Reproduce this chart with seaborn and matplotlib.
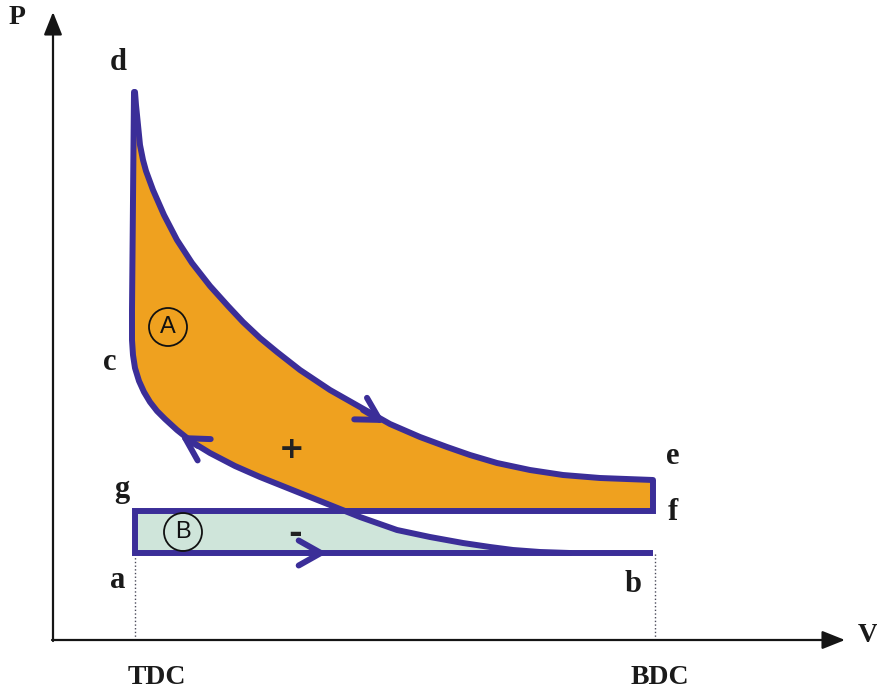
import numpy as np
import pandas as pd
import matplotlib
matplotlib.use("Agg")
import matplotlib.pyplot as plt
from matplotlib.patches import Circle
import seaborn as sns

# diagram units
V_TDC = 82
V_BDC = 600
P_e = 160          # end of expansion
P_gf = 129         # exhaust line g-f
P_ab = 87          # intake line a-b

# expansion stroke d -> e
exp_V = [82, 83, 85, 87, 90, 93, 100, 111, 124, 139, 157, 175, 190, 207, 224, 247,
         277, 307, 337, 367, 394, 417, 444, 477, 510, 547, 600]
exp_P = [548, 535, 515, 495, 480, 469, 450, 425, 400, 377, 354, 334, 318, 302, 288,
         270, 250, 233, 216, 203, 193, 185, 177, 170, 165, 162, 160]

# left edge d -> c, then compression c -> b (listed top to bottom)
comp_V = [81, 80, 79, 79, 80, 82, 86, 91, 97, 104, 112, 124, 139, 157, 182, 207,
          232, 257, 287, 307, 344, 377, 410, 437, 460, 487, 517]
comp_P = [548, 440, 330, 300, 285, 272, 259, 248, 238, 229, 221, 210, 198, 187,
          174, 163, 153, 143, 131, 123, 110, 103, 97, 93, 90, 88, 87]

point_labels = ["d", "c", "g", "a", "b", "e", "f"]
label_V = [65, 57, 69, 65, 580, 620, 620]
label_P = [578, 278, 150, 60, 55, 183, 127]

LINE = "#3b2e98"
ORANGE = "#efa11f"
GREEN = "#cfe5da"
INK = "#1a1a1a"

sns.set_theme(style="white")
fig = plt.figure(figsize=(8.77, 6.93), dpi=100)
ax = fig.add_axes([0, 0, 1, 1])
ax.set_xlim(-53, 824)
ax.set_ylim(-53, 640)
ax.axis("off")

cV = np.array(comp_V)
cP = np.array(comp_P)

# area A (orange): above compression curve and above the g-f line
polyA_V = list(exp_V) + [V_BDC] + list(cV[::-1])
polyA_P = list(exp_P) + [P_gf] + list(np.maximum(cP[::-1], P_gf))
ax.fill(polyA_V, polyA_P, color=ORANGE, lw=0, zorder=1)

# area B (green): between a-b line and min(compression, g-f line)
polyB_V = [V_TDC, V_TDC] + list(cV[cV > V_TDC])
polyB_P = [P_ab, P_gf] + list(np.minimum(cP[cV > V_TDC], P_gf))
ax.fill(polyB_V, polyB_P, color=GREEN, lw=0, zorder=1)

lw = 4.3
for xs, ys in [(exp_V, exp_P), (comp_V, comp_P)]:
    sns.lineplot(x=xs, y=ys, sort=False, estimator=None, color=LINE, lw=lw, ax=ax,
                 zorder=3, solid_joinstyle="round", solid_capstyle="round")
rect = pd.DataFrame({"V": [V_BDC, V_BDC, V_TDC, V_TDC, V_BDC],
                     "P": [P_e, P_gf, P_gf, P_ab, P_ab]})
ax.plot(rect["V"], rect["P"], color=LINE, lw=lw, solid_joinstyle="miter",
        solid_capstyle="butt", zorder=3)

# direction chevrons
chev = dict(arrowstyle="->,head_length=0.8,head_width=0.45", color=LINE, lw=lw,
            mutation_scale=20, shrinkA=0, shrinkB=0, joinstyle="round",
            capstyle="round")
ax.annotate("", xy=(332, 217), xytext=(310, 230), arrowprops=chev, zorder=4)
ax.annotate("", xy=(127, 205), xytext=(145, 194), arrowprops=chev, zorder=4)
ax.annotate("", xy=(274, P_ab), xytext=(255, P_ab), arrowprops=chev, zorder=4)

# axes with arrows
axis_arrow = dict(arrowstyle="-|>,head_length=1.0,head_width=0.4", color="#151515",
                  lw=1.6, mutation_scale=14, shrinkA=0, shrinkB=0)
ax.annotate("", xy=(0, 628), xytext=(0, -1), arrowprops=axis_arrow)
ax.annotate("", xy=(792, 0), xytext=(-1, 0), arrowprops=axis_arrow)

# TDC / BDC dotted guides
for v in [V_TDC, V_BDC + 2]:
    ax.plot([v, v], [0, P_ab], color="#4a4a5a", lw=1, ls=":", zorder=2)

serif = ["Liberation Serif", "DejaVu Serif"]
for t, x, y in zip(point_labels, label_V, label_P):
    ax.text(x, y, t, fontsize=22, fontweight="bold", family=serif, color=INK,
            ha="center", va="center")
ax.text(-36, 622, "P", fontsize=20, fontweight="bold", family=serif, ha="center",
        va="center", color=INK)
ax.text(815, 4, "V", fontsize=20, fontweight="bold", family=serif, ha="center",
        va="center", color=INK)
ax.text(104, -38, "TDC", fontsize=20, fontweight="bold", family=serif, ha="center",
        va="center", color=INK)
ax.text(607, -37, "BDC", fontsize=20, fontweight="bold", family=serif, ha="center",
        va="center", color=INK)
ax.text(239, 191, "+", fontsize=22, fontweight="bold", family="DejaVu Sans",
        ha="center", va="center", color="#222222")
ax.text(242, 106, "-", fontsize=24, fontweight="bold", family="DejaVu Sans",
        ha="center", va="center", color="#222222")

# circled region labels
for name, x, y in [("A", 115, 313), ("B", 130, 108)]:
    ax.add_patch(Circle((x, y), 19, fill=False, ec="#111111", lw=1.3, zorder=5))
    ax.text(x, y, name, fontsize=17, family="Liberation Sans", ha="center",
            va="center", color="#111111", zorder=5)

fig.savefig("out.png", dpi=100)
